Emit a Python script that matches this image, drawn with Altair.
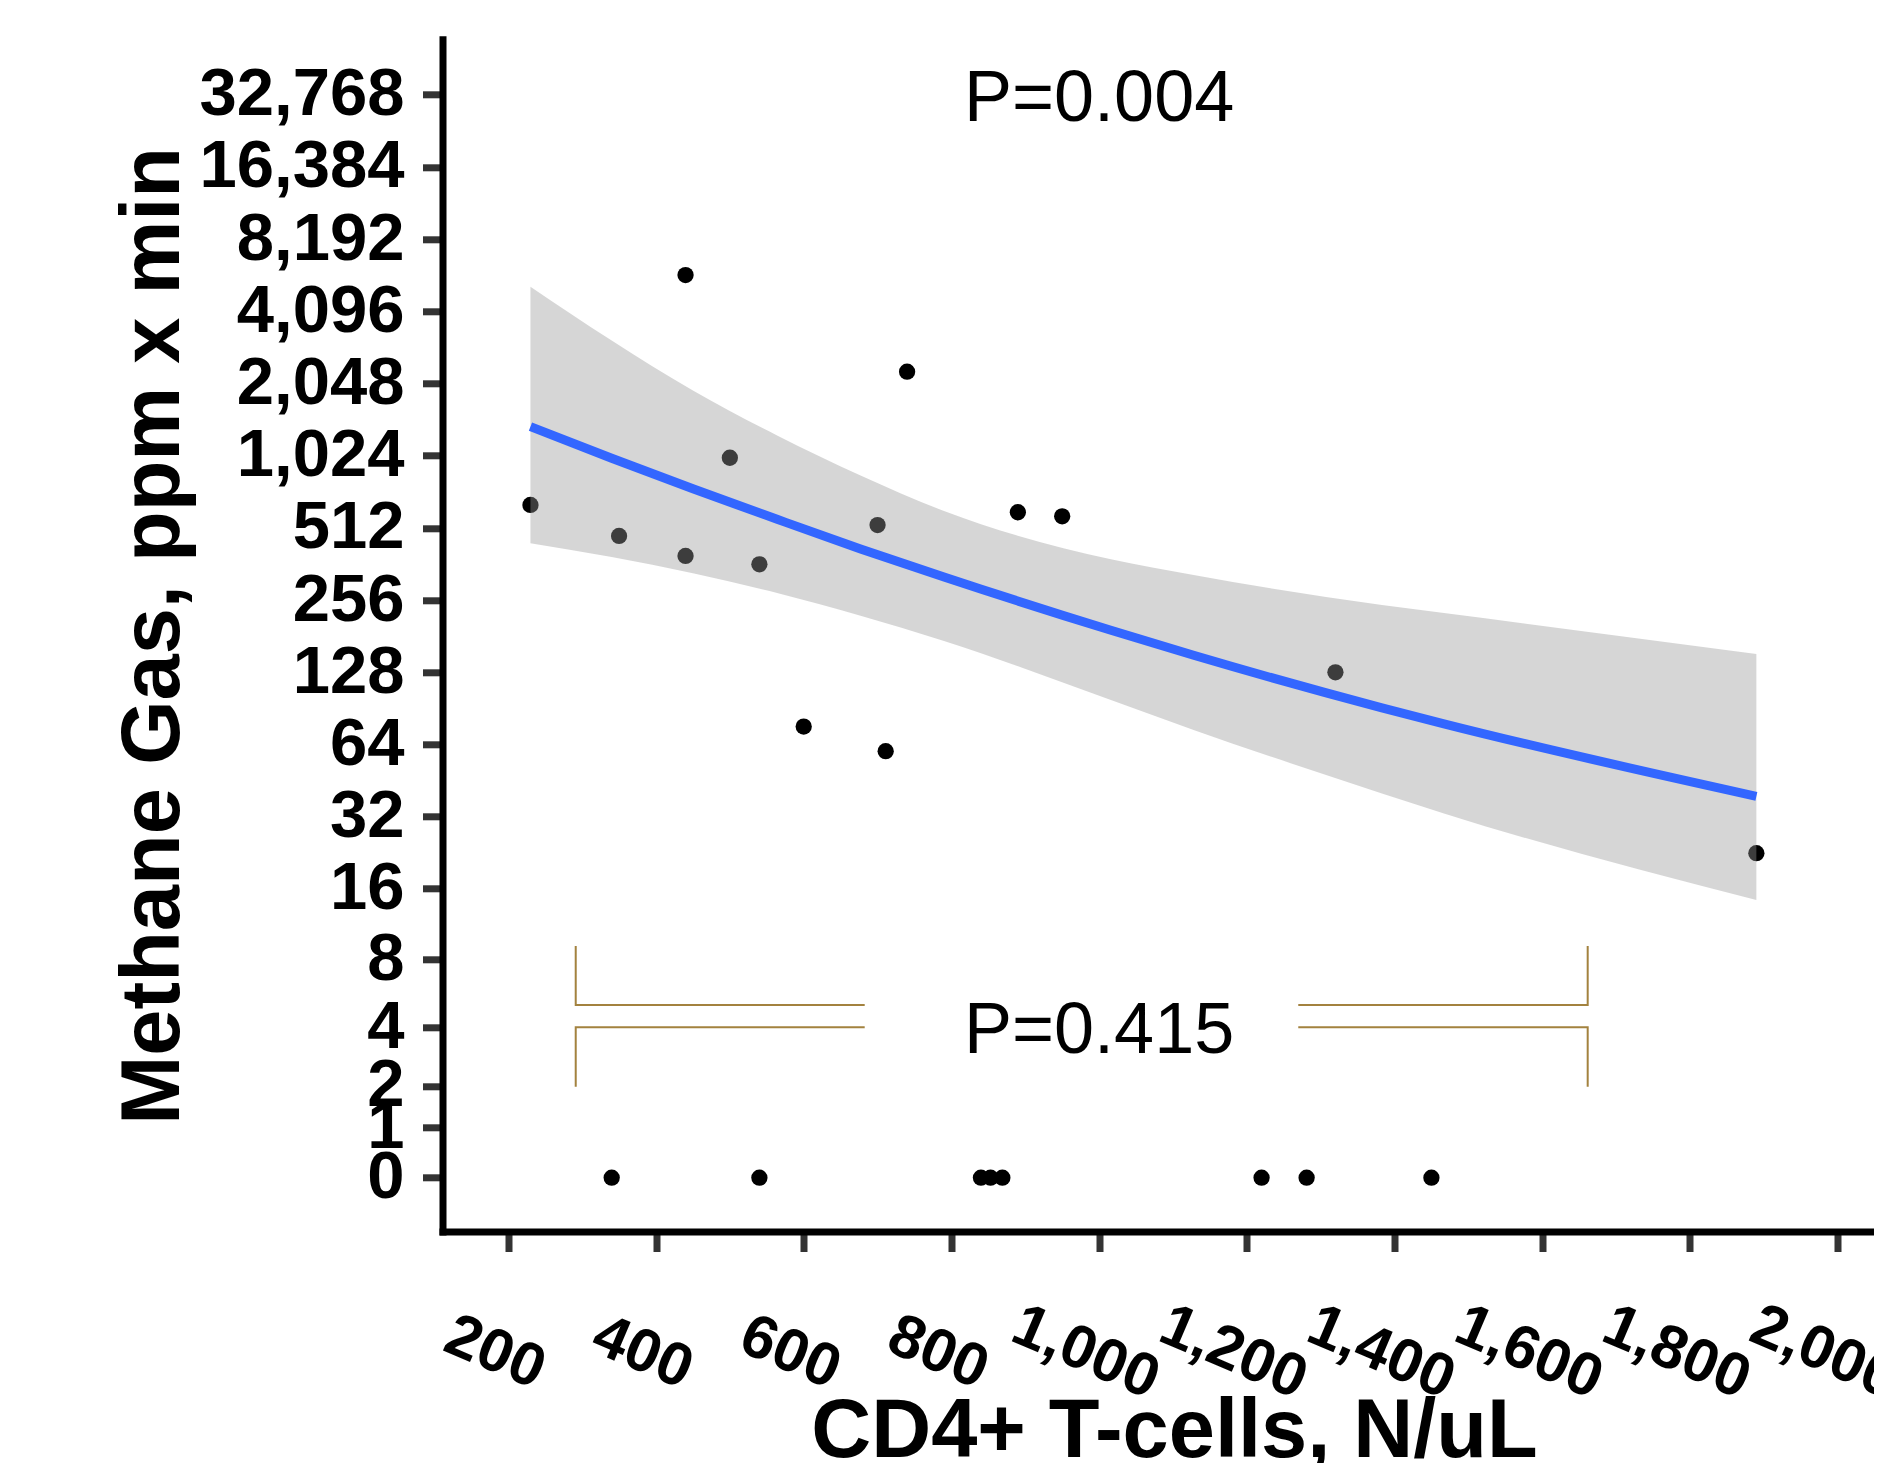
import math
import altair as alt
import pandas as pd

# ---- data -----------------------------------------------------------------
cd4_cells = [230, 350, 440, 440, 500, 540, 600, 700, 711, 740, 890, 950, 1320, 1890,
             340, 540, 840, 853, 869, 1220, 1281, 1450]
methane_ppm = [638, 474, 5800, 391, 1004, 361, 76, 526, 60, 2293, 595, 572, 128, 22.5,
               0, 0, 0, 0, 0, 0, 0, 0]

fit_cd4 = [230, 340, 450, 564, 677, 790, 1016, 1128, 1383, 1467, 1890]
fit_mid = [1353, 999, 745, 556, 418.5, 319.6, 191.6, 150.8, 91.0, 78.0, 38.9]
fit_low = [441.7, 387, 331.1, 274, 220.4, 172.8, 98.1, 73.6, 40.0, 33.0, 14.3]
fit_high = [5188, 3096, 1915, 1243, 846.9, 602, 378.7, 325.8, 244.2, 226, 152.5]

y_tick_labels = [0, 1, 2, 4, 8, 16, 32, 64, 128, 256, 512, 1024, 2048, 4096,
                 8192, 16384, 32768]
x_tick_labels = [200, 400, 600, 800, 1000, 1200, 1400, 1600, 1800, 2000]

p_labels = ["P=0.004", "P=0.415"]
p_cd4 = [1000, 1000]
p_ppm = [32768, 4]

# bracket pieces (L-shapes) in data units
br_piece = ["a", "a", "a", "b", "b", "b", "c", "c", "c", "d", "d", "d"]
br_order = [0, 1, 2, 0, 1, 2, 0, 1, 2, 0, 1, 2]
br_cd4 = [682.6, 291.3, 291.3, 682.6, 291.3, 291.3,
          1269.7, 1661.6, 1661.6, 1269.7, 1661.6, 1661.6]
br_ppm = [5.06, 5.06, 9.14, 4.0, 4.0, 1.98,
          5.06, 5.06, 9.14, 4.0, 4.0, 1.98]

# ---- pseudo-log (base 2, sigma 1) transform --------------------------------
def pl_expr(f):
    return f"log(datum.{f}/2 + sqrt(pow(datum.{f}/2, 2) + 1)) / LN2"

y_tick_pos = [math.asinh(v / 2) / math.log(2) for v in y_tick_labels]

points = pd.DataFrame({"cd4": cd4_cells, "ppm": methane_ppm})
fit = pd.DataFrame({"cd4": fit_cd4, "mid": fit_mid, "lo": fit_low, "hi": fit_high})
ptxt = pd.DataFrame({"cd4": p_cd4, "ppm": p_ppm, "label": p_labels})
brk = pd.DataFrame({"cd4": br_cd4, "ppm": br_ppm, "piece": br_piece, "ord": br_order})

FONT = "Liberation Sans"
PLOT_W = 1431.5
PLOT_H = 1192.2
xscale = alt.Scale(domain=[110.9, 110.9 + PLOT_W / 0.7385], nice=False, zero=False)
yscale = alt.Scale(domain=[-0.745, 15.767], nice=False, zero=False)

x_axis = alt.Axis(
    values=x_tick_labels, labelExpr="format(datum.value, ',')", grid=False,
    domainColor="black", domainWidth=7, domainCap="square",
    tickColor="#333333", tickWidth=7, tickSize=20,
    labelFont=FONT, labelFontSize=61, labelFontWeight="bold", labelColor="black",
    labelAngle=23, labelAlign="center", labelBaseline="middle",
    labelPadding=101, labelOffset=-14, labelOverlap=False, labelFlush=False,
    labelLimit=2000,
    title="CD4+ T-cells, N/uL", titleFont=FONT, titleFontSize=83,
    titleFontWeight="bold", titleColor="black", titleX=731.5, titleY=225,
    titleAlign="center", titleBaseline="alphabetic", titleAngle=0,
)
y_axis = alt.Axis(
    values=y_tick_pos, grid=False,
    labelExpr="format(round(pow(2, datum.value) - pow(2, -datum.value)), ',')",
    domainColor="black", domainWidth=7, domainCap="square",
    tickColor="#333333", tickWidth=7, tickSize=20,
    labelFont=FONT, labelFontSize=67, labelFontWeight="bold", labelColor="black",
    labelAlign="right", labelBaseline="middle", labelPadding=18.5,
    labelOverlap=False, labelFlush=False, labelLimit=2000,
    title="Methane Gas, ppm x min", titleFont=FONT, titleFontSize=83,
    titleFontWeight="bold", titleColor="black", titleAngle=270,
    titleX=-264, titleY=PLOT_H / 2, titleAlign="center", titleBaseline="alphabetic",
)

X = alt.X("cd4:Q", scale=xscale, axis=x_axis, title="CD4+ T-cells, N/uL")

def Y(field):
    return alt.Y(f"{field}:Q", scale=yscale, axis=y_axis, title="Methane Gas, ppm x min")

pts = alt.Chart(points).transform_calculate(t=pl_expr("ppm")).mark_circle(
    size=265, color="black", opacity=1
).encode(x=X, y=Y("t"))

ribbon = alt.Chart(fit).transform_calculate(
    tlo=pl_expr("lo"), thi=pl_expr("hi")
).mark_area(color="#999999", opacity=0.4, interpolate="monotone").encode(
    x=X, y=Y("tlo"), y2="thi:Q"
)

line = alt.Chart(fit).transform_calculate(t=pl_expr("mid")).mark_line(
    color="#3366FF", strokeWidth=9, interpolate="monotone"
).encode(x=X, y=Y("t"))

bracket = alt.Chart(brk).transform_calculate(t=pl_expr("ppm")).mark_line(
    color="#A3823F", strokeWidth=2, strokeCap="butt", strokeJoin="miter"
).encode(x=X, y=Y("t"), detail="piece:N", order="ord:Q")

texts = alt.Chart(ptxt).transform_calculate(t=pl_expr("ppm")).mark_text(
    font=FONT, fontSize=72, color="black", align="center", baseline="middle", dy=4
).encode(x=X, y=Y("t"), text="label:N")

chart = alt.layer(pts, ribbon, line, bracket, texts).properties(
    width=PLOT_W, height=PLOT_H,
    autosize=alt.AutoSizeParams(type="none"),
    padding={"left": 434.5, "top": 31.3, "right": 0, "bottom": 231.5},
    background="white",
).configure_view(stroke=None)

chart.save("out.html", embed_options={"renderer": "svg", "actions": False})
